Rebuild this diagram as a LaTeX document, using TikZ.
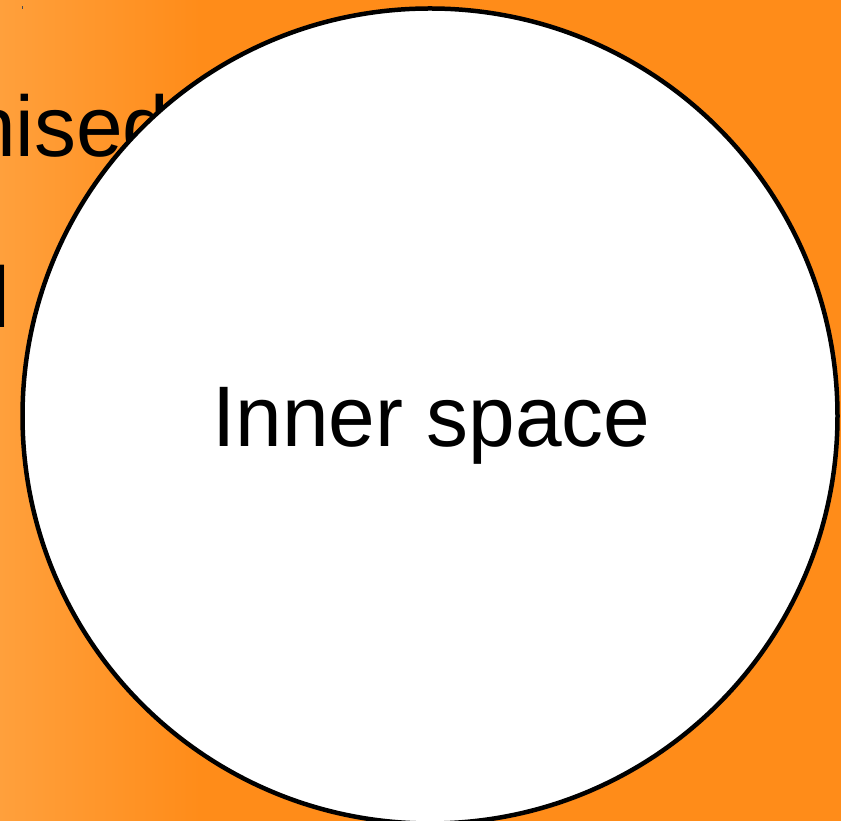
\documentclass[tikz,border=0pt]{standalone}
\usepackage{fontspec}
\setmainfont{Liberation Sans}
\definecolor{orangeR}{HTML}{FF8C19}
\definecolor{orangeL}{HTML}{FFA03C}
\tikzset{
  bigtext/.style={font=\fontsize{86}{100}\selectfont, inner sep=0pt, text=black, xscale=0.975, transform shape},
  ring/.style={circle, draw=black, line width=4.5pt, fill=white, minimum size=815pt, inner sep=0pt}
}
\begin{document}
\begin{tikzpicture}[x=1pt,y=1pt]
\useasboundingbox (0,0) rectangle (841,821);
\clip (0,0) rectangle (841,821);
\fill[orangeR] (0,0) rectangle (841,821);
\shade[left color=orangeL, right color=orangeR] (0,0) rectangle (200,821);
\fill[black!70] (22,812) rectangle (23,815);
\node[bigtext, anchor=base west] (t1) at (-31,664) {nised};
\node[bigtext, anchor=base west] (t2) at (-8.5,493) {l};
\node[ring] (c) at (430,405) {};
\node[bigtext, anchor=base] (lbl) at (431.5,374) {Inner space};
\end{tikzpicture}
\end{document}
